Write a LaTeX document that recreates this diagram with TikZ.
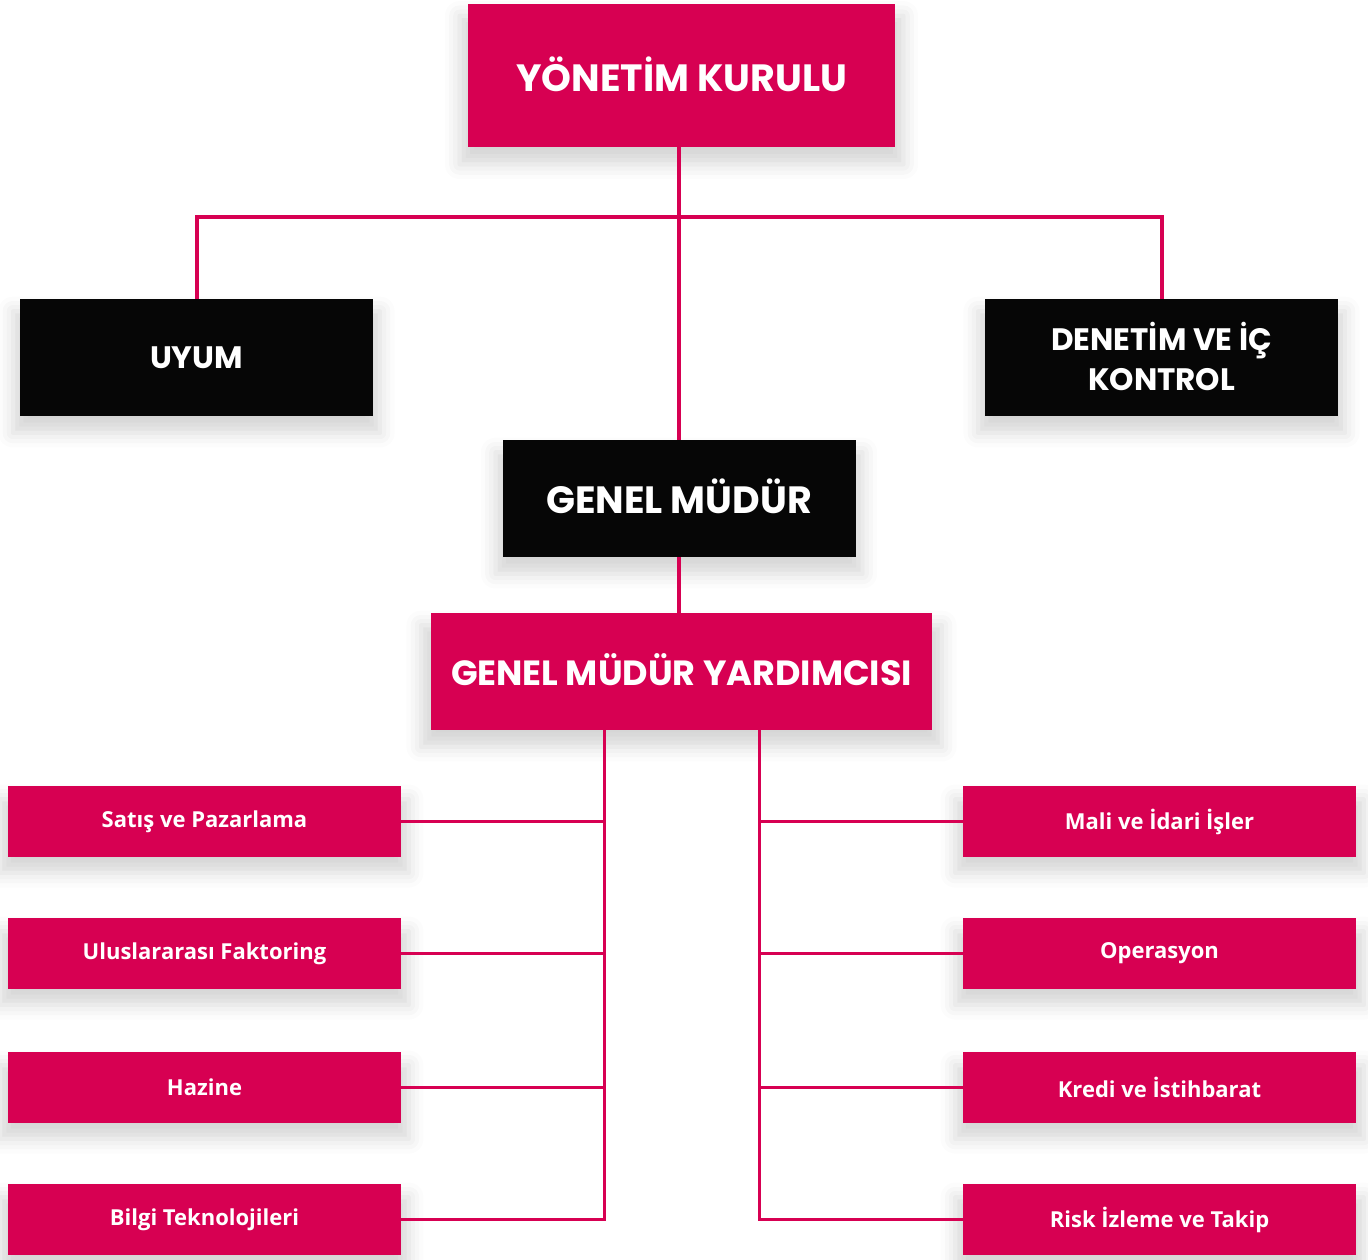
\documentclass[tikz,border=0pt]{standalone}
\usepackage{fontspec}
\setmainfont{Poppins}
\newfontfamily\smallf{Open Sans}
\usetikzlibrary{shadows.blur}
\definecolor{brand}{HTML}{D70052}
\definecolor{ink}{HTML}{060606}
\tikzset{
  shad/.style={blur shadow={shadow xshift=0pt, shadow yshift=-14pt, shadow blur radius=14pt, shadow opacity=16, shadow scale=1.04}},
  pinkbig/.style={shad, fill=brand, draw=none, text=white, inner sep=0pt, font=\bfseries\fontsize{38}{44}\selectfont, align=center},
  blackbox/.style={shad, fill=ink, draw=none, text=white, inner sep=0pt, minimum width=353pt, minimum height=117pt, font=\bfseries\fontsize{31}{40}\selectfont, align=center},
  dept/.style={shad, fill=brand, draw=none, text=white, inner sep=0pt, minimum width=393pt, minimum height=71pt, font=\smallf\bfseries\fontsize{22}{26}\selectfont},
  thick link/.style={draw=brand, line width=4pt},
  thin link/.style={draw=brand, line width=3pt},
}
\begin{document}
\begin{tikzpicture}[x=1pt,y=-1pt]
\useasboundingbox (0,0) rectangle (1368,1259);
% top level
\node[pinkbig, minimum width=427pt, minimum height=143pt] (yk) at (681.5,75.5) {\raisebox{3pt}{YÖNETİM KURULU}};
\node[blackbox] (uyum) at (196.5,357.5) {UYUM};
\node[blackbox] (den) at (1161.5,357.5) {\raisebox{2pt}{DENETİM VE İÇ}\\\raisebox{2pt}{KONTROL}};
\node[blackbox, font=\bfseries\fontsize{38}{44}\selectfont] (gm) at (679,498.5) {\raisebox{5pt}{GENEL MÜDÜR}};
\node[pinkbig, minimum width=501pt, minimum height=117pt, font=\bfseries\fontsize{35}{42}\selectfont] (gmy) at (681.5,671.5) {\raisebox{3pt}{GENEL MÜDÜR YARDIMCISI}};
% departments
\node[dept] (l1) at (204.5,821.5) {Satış ve Pazarlama};
\node[dept] (l2) at (204.5,953.5) {Uluslararası Faktoring};
\node[dept] (l3) at (204.5,1087.5) {Hazine};
\node[dept] (l4) at (204.5,1219.5) {Bilgi Teknolojileri};
\node[dept] (r1) at (1159.5,821.5) {Mali ve İdari İşler};
\node[dept] (r2) at (1159.5,953.5) {Operasyon};
\node[dept] (r3) at (1159.5,1087.5) {Kredi ve İstihbarat};
\node[dept] (r4) at (1159.5,1219.5) {Risk İzleme ve Takip};
% connectors
\coordinate (bar) at (679,217);
\coordinate (ls) at (604,730);
\coordinate (rs) at (759,730);
\draw[thick link] (gm.north |- yk.south) -- (gm.north);
\draw[thick link] (uyum.north) |- (bar) -| (den.north);
\draw[thick link] (gm.south) -- (gm.south |- gmy.north);
\draw[thin link] (ls) |- (l4.east);
\draw[thin link] (rs) |- (r4.west);
\foreach \n in {l1,l2,l3} \draw[thin link] (\n.east) -- (\n.east -| ls);
\foreach \n in {r1,r2,r3} \draw[thin link] (\n.west) -- (\n.west -| rs);
\end{tikzpicture}
\end{document}
